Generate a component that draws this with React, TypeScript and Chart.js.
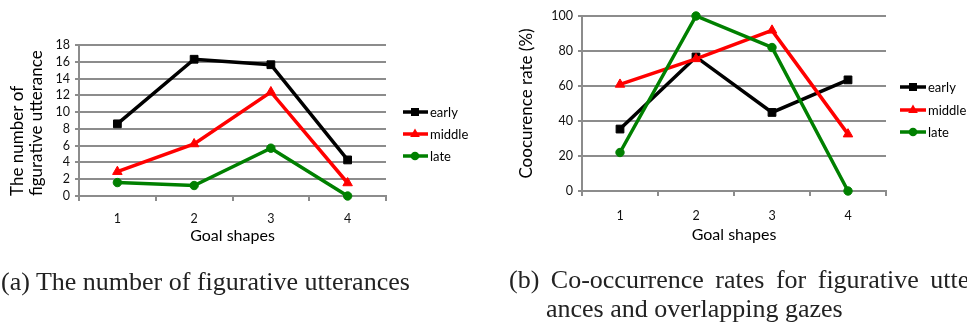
import React, { useEffect, useRef } from "react";
import { Chart, registerables } from "chart.js";

Chart.register(...registerables);

// ---------- data ----------
const categories = ["1", "2", "3", "4"];
const seriesNames = ["early", "middle", "late"];

// (a) number of figurative utterances
const countEarly = [8.6, 16.3, 15.65, 4.3];
const countMiddle = [2.9, 6.2, 12.4, 1.55];
const countLate = [1.6, 1.25, 5.7, 0];

// (b) co-occurrence rate (%)
const rateEarly = [35.4, 76.6, 44.9, 63.5];
const rateMiddle = [60.9, 75.5, 91.8, 32.5];
const rateLate = [22, 100, 82, 0];

const countAxisMax = 18;
const countAxisStep = 2;
const rateAxisMax = 100;
const rateAxisStep = 20;

const xTitle = "Goal shapes";
const countTitle = ["The number of", "figurative utterance"];
const rateTitle = "Coocurence rate (%)";
const captionA = "(a) The number of figurative utterances";
const captionB1 = "(b) Co-occurrence rates for figurative utter-";
const captionB2 = "ances and overlapping gazes";

// ---------- styles ----------
const seriesColors = ["#000000", "#ff0000", "#008000"];
const seriesMarkers = ["rect", "triangle", "circle"];
const markerRadius = [5.5, 5.5, 4.2];
const gridColor = "#8c8c8c";
const sansFont = "Lato";

type Area = { left: number; right: number; top: number; bottom: number };

interface ChartProps {
  x: number;
  y: number;
  width: number;
  height: number;
  series: number[][];
  yMax: number;
  yStep: number;
  yTitle: string | string[];
  yTitleAlign: "start" | "center" | "end";
  yTitlePad: number;
  xTitlePad: number;
  xTickPad: number;
  area: Area;
}

function LineChart(p: ChartProps) {
  const ref = useRef<HTMLCanvasElement | null>(null);
  useEffect(() => {
    if (!ref.current) return;
    const chart = new Chart(ref.current, {
      type: "line",
      data: {
        labels: categories,
        datasets: p.series.map((d, i) => ({
          label: seriesNames[i],
          data: d,
          borderColor: seriesColors[i],
          backgroundColor: seriesColors[i],
          pointBackgroundColor: seriesColors[i],
          pointBorderColor: seriesColors[i],
          borderWidth: 3.5,
          pointStyle: seriesMarkers[i] as any,
          pointRadius: markerRadius[i],
          pointBorderWidth: 1,
          tension: 0,
          fill: false,
          clip: false as any,
          order: 2 - i,
        })),
      },
      options: {
        animation: false,
        responsive: false,
        devicePixelRatio: 1,
        layout: {
          padding: { left: 0, top: p.area.top, right: p.width - p.area.right, bottom: 0 },
        },
        plugins: { legend: { display: false }, tooltip: { enabled: false } },
        scales: {
          x: {
            type: "category",
            offset: true,
            grid: {
              offset: true,
              drawOnChartArea: false,
              drawTicks: true,
              tickLength: 5,
              color: gridColor,
              lineWidth: 2,
            },
            border: { color: gridColor, width: 2 },
            ticks: {
              font: { family: sansFont, size: 12.5 },
              color: "#111",
              padding: p.xTickPad,
              maxRotation: 0,
              autoSkip: false,
            },
            title: {
              display: true,
              text: xTitle,
              color: "#000",
              font: { family: sansFont, size: 16, lineHeight: 1.1 },
              padding: { top: 0, bottom: p.xTitlePad },
            },
            afterFit: (s: any) => {
              s.height = p.height - p.area.bottom;
            },
          },
          y: {
            min: 0,
            max: p.yMax,
            ticks: {
              stepSize: p.yStep,
              font: { family: sansFont, size: 12.5 },
              color: "#111",
              padding: 5,
              autoSkip: false,
            },
            grid: { color: gridColor, lineWidth: 2, tickLength: 4 },
            border: { color: gridColor, width: 2 },
            title: {
              display: true,
              text: p.yTitle as any,
              align: p.yTitleAlign,
              color: "#000",
              font: { family: sansFont, size: 17, lineHeight: 1.1 },
              padding: { top: p.yTitlePad, bottom: 0 },
            },
            afterFit: (s: any) => {
              s.width = p.area.left;
            },
          },
        },
      } as any,
    });
    return () => chart.destroy();
  }, []);
  return (
    <canvas
      ref={ref}
      width={p.width}
      height={p.height}
      style={{ position: "absolute", left: p.x, top: p.y, width: p.width, height: p.height }}
    />
  );
}

function Marker({ kind, cx, cy, color }: { kind: string; cx: number; cy: number; color: string }) {
  if (kind === "rect") return <rect x={cx - 4} y={cy - 4} width={8} height={8} fill={color} />;
  if (kind === "triangle")
    return <polygon points={`${cx},${cy - 5.5} ${cx + 4.8},${cy + 3} ${cx - 4.8},${cy + 3}`} fill={color} />;
  return <circle cx={cx} cy={cy} r={4.3} fill={color} />;
}

function Legend({ x1, x2, mx, tx, ys }: { x1: number; x2: number; mx: number; tx: number; ys: number[] }) {
  return (
    <g>
      {seriesNames.map((n, i) => (
        <g key={n}>
          <line x1={x1} x2={x2} y1={ys[i]} y2={ys[i]} stroke={seriesColors[i]} strokeWidth={3.5} />
          <Marker kind={seriesMarkers[i]} cx={mx} cy={ys[i]} color={seriesColors[i]} />
          <text x={tx} y={ys[i] + 4.5} fontFamily={sansFont} fontSize={13} fill="#000">
            {n}
          </text>
        </g>
      ))}
    </g>
  );
}

export default function App() {
  return (
    <div
      style={{
        position: "absolute",
        left: 0,
        top: 0,
        width: 967,
        height: 329,
        overflow: "hidden",
        background: "#fff",
      }}
    >
      <LineChart
        x={0}
        y={0}
        width={490}
        height={250}
        series={[countEarly, countMiddle, countLate]}
        yMax={countAxisMax}
        yStep={countAxisStep}
        yTitle={countTitle}
        yTitleAlign="start"
        yTitlePad={8}
        xTitlePad={5}
        xTickPad={10}
        area={{ left: 79, right: 386, top: 45, bottom: 196 }}
      />
      <LineChart
        x={490}
        y={0}
        width={477}
        height={250}
        series={[rateEarly, rateMiddle, rateLate]}
        yMax={rateAxisMax}
        yStep={rateAxisStep}
        yTitle={rateTitle}
        yTitleAlign="center"
        yTitlePad={27.5}
        xTitlePad={6}
        xTickPad={12}
        area={{ left: 92, right: 396, top: 16, bottom: 191 }}
      />
      <svg
        width={967}
        height={329}
        style={{ position: "absolute", left: 0, top: 0, pointerEvents: "none" }}
      >
        <Legend x1={403} x2={428} mx={415} tx={430} ys={[112, 134, 156]} />
        <Legend x1={900} x2={926} mx={913} tx={928} ys={[87, 110, 132]} />
        <text x={1} y={290} fontFamily="Liberation Serif" fontSize={26} fill="#222">
          {captionA}
        </text>
        <text x={509} y={288} fontFamily="Liberation Serif" fontSize={26} fill="#222" wordSpacing={5}>
          {captionB1}
        </text>
        <text x={546} y={317} fontFamily="Liberation Serif" fontSize={26} fill="#222">
          {captionB2}
        </text>
      </svg>
    </div>
  );
}
